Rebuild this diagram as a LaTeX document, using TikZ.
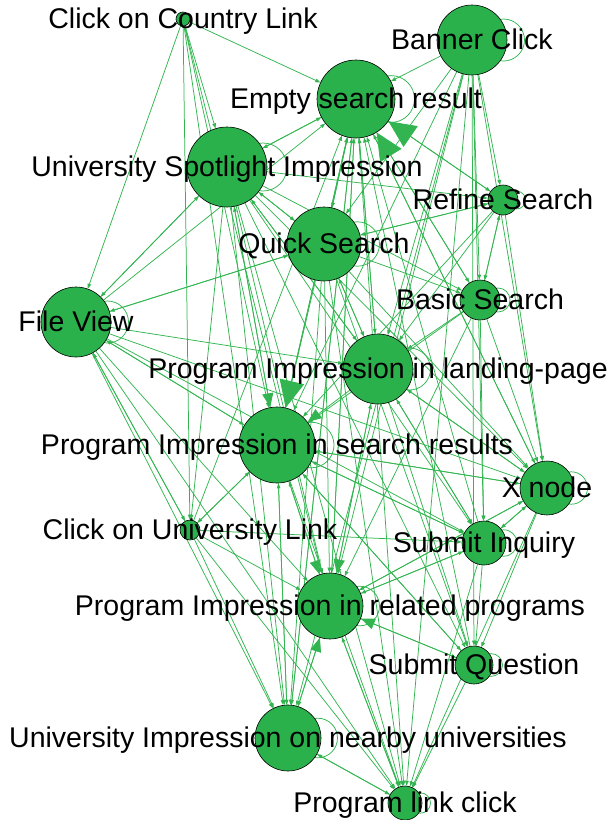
\documentclass[tikz,border=0pt]{standalone}
\usepackage{fontspec}
\setmainfont{Liberation Sans}
\usetikzlibrary{arrows.meta}
\pgfdeclarelayer{background}
\pgfsetlayers{background,main}
\definecolor{ng}{RGB}{43,177,76}
\definecolor{eg}{RGB}{50,181,80}
\begin{document}
\begin{tikzpicture}[x=1pt,y=-1pt,
 vtx/.style={circle,draw=black,line width=0.6pt,fill=ng,inner sep=0pt,minimum size=#1},
 lbl/.style={inner sep=0pt,text height=18pt,text depth=0pt,font=\fontsize{28.5}{34}\selectfont},
 edg/.style={draw=eg,line width=0.75pt,-{Triangle[length=5pt,width=3.6pt]}},
 edgmed/.style={draw=eg,line width=0.75pt,-{Triangle[length=14pt,width=11pt]}},
 edgbig/.style={draw=eg,line width=0.75pt,-{Triangle[length=27pt,width=25pt]}},
 lp/.style={draw=eg,line width=0.75pt}]
\useasboundingbox (0,0) rectangle (611,820);
% nodes
\node[vtx=14pt] (cc) at (183,19) {};
\node[vtx=70pt] (bc) at (472,40) {};
\node[vtx=78pt] (es) at (356,99) {};
\node[vtx=80pt] (us) at (227,167) {};
\node[vtx=30pt] (rs) at (503,200) {};
\node[vtx=74pt] (qs) at (324,244) {};
\node[vtx=40pt] (bs) at (480,300) {};
\node[vtx=70pt] (fv) at (76,322) {};
\node[vtx=70pt] (pl) at (378,369) {};
\node[vtx=76pt] (ps) at (277,445) {};
\node[vtx=54pt] (xn) at (547,488) {};
\node[vtx=20pt] (cu) at (190,530) {};
\node[vtx=44pt] (si) at (484,543) {};
\node[vtx=66pt] (pr) at (330,606) {};
\node[vtx=38pt] (sq) at (474,665) {};
\node[vtx=66pt] (un) at (288,738) {};
\node[vtx=34pt] (pc) at (405,803) {};
% edges
\begin{pgfonlayer}{background}
\foreach \s/\t in {cc/es,bc/es,us/es,fv/es,qs/es,pl/es,ps/es,pr/es,xn/es,si/es,un/es,sq/es,cu/es,
 cc/us,es/us,fv/us,qs/us,pl/us,ps/us,
 us/qs,es/qs,fv/qs,bc/qs,rs/qs,pl/qs,
 cc/fv,us/fv,qs/fv,ps/fv,cu/fv,
 fv/pl,us/pl,es/pl,qs/pl,bc/pl,bs/pl,rs/pl,xn/pl,si/pl,pr/pl,
 fv/ps,es/ps,cc/ps,bc/ps,bs/ps,rs/ps,cu/ps,pr/ps,un/ps,xn/ps,si/ps,sq/ps,
 us/pr,qs/pr,es/pr,fv/pr,cu/pr,bc/pr,bs/pr,xn/pr,si/pr,pc/pr,cc/pr,
 fv/un,us/un,cu/un,ps/un,pr/un,qs/un,es/un,cc/un,bc/un,pc/un,
 fv/pc,us/pc,un/pc,pr/pc,ps/pc,es/pc,qs/pc,bc/pc,cu/pc,sq/pc,si/pc,xn/pc,
 bc/xn,bs/xn,rs/xn,pl/xn,ps/xn,fv/xn,us/xn,qs/xn,es/xn,si/xn,pr/xn,
 xn/si,ps/si,pr/si,pl/si,bc/si,bs/si,fv/si,us/si,cu/si,
 si/sq,xn/sq,pr/sq,ps/sq,bc/sq,us/sq,qs/sq,pl/sq,
 bc/bs,rs/bs,qs/bs,es/bs,us/bs,
 bc/rs,es/rs,us/rs,bs/rs,qs/rs,
 fv/cu,us/cu,cc/cu,ps/cu}
 \draw[edg] (\s) -- (\t);
\foreach \s/\t in {us/ps,pl/ps,ps/pr,pl/pr,un/pr,sq/pr}
 \draw[edgmed] (\s) -- (\t);
\draw[edgbig] (rs) -- (es);
\draw[edgbig] (bs) -- (es);
\draw[edgbig] (qs) -- (ps);
% self loops
\foreach \n/\r in {bc/35,es/39,us/40,rs/15,qs/37,bs/20,fv/35,pl/35,ps/38,xn/27,si/22,pr/33,sq/19,un/33,pc/17}
 \draw[lp] ([xshift=0.9*\r pt]\n.center) circle[radius=0.6*\r pt];
\end{pgfonlayer}
% labels
\node[lbl] (ccl) at (cc) {Click on Country Link};
\node[lbl] (bcl) at (bc) {Banner Click};
\node[lbl] (esl) at (es) {Empty search result};
\node[lbl] (usl) at (us) {University Spotlight Impression};
\node[lbl] (rsl) at (rs) {Refine Search};
\node[lbl] (qsl) at (qs) {Quick Search};
\node[lbl] (bsl) at (bs) {Basic Search};
\node[lbl] (fvl) at (fv) {File View};
\node[lbl] (pll) at (pl) {Program Impression in landing-page};
\node[lbl] (psl) at (ps) {Program Impression in search results};
\node[lbl] (xnl) at (xn) {X node};
\node[lbl] (cul) at (cu) {Click on University Link};
\node[lbl] (sil) at (si) {Submit Inquiry};
\node[lbl] (prl) at (pr) {Program Impression in related programs};
\node[lbl] (sql) at (sq) {Submit Question};
\node[lbl] (unl) at (un) {University Impression on nearby universities};
\node[lbl] (pcl) at (pc) {Program link click};
\end{tikzpicture}
\end{document}
